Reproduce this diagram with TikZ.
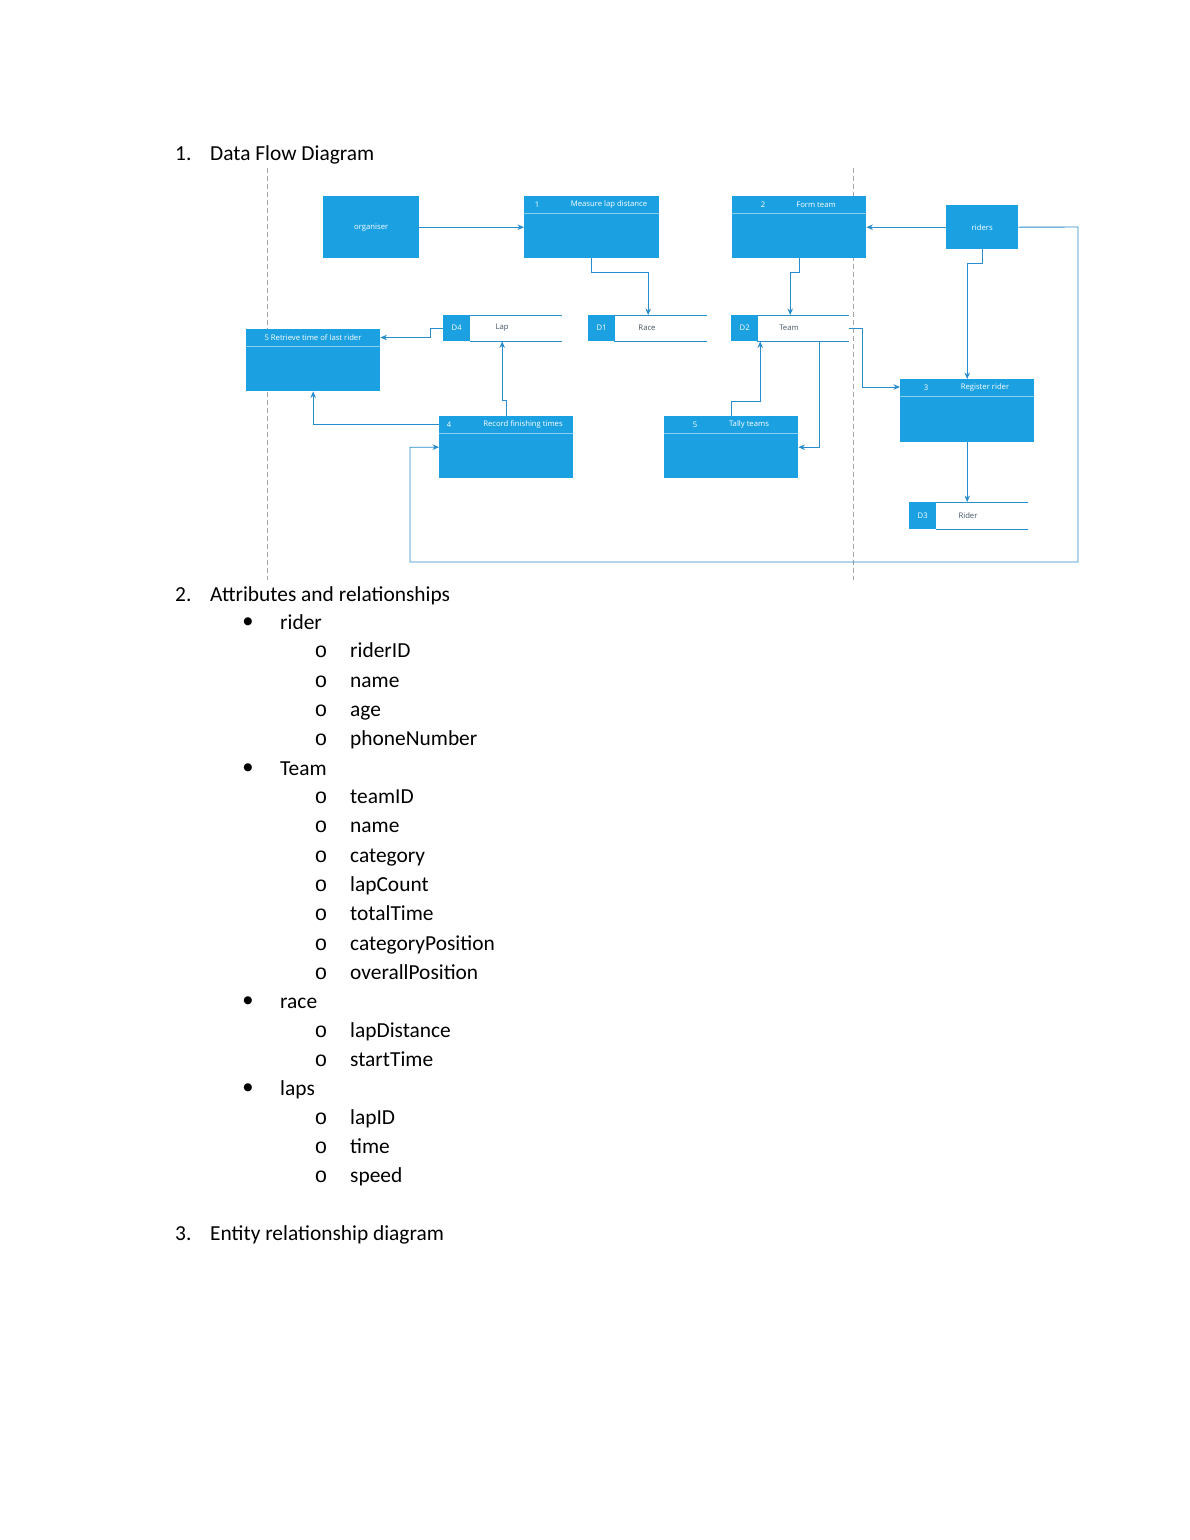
\documentclass[tikz,border=0pt]{standalone}
\usepackage{fontspec}
\setmainfont{Carlito}
\newfontfamily\dfd{Open Sans}
\newfontfamily\monofnt{Liberation Mono}
\newfontfamily\bulfont{DejaVu Sans}
\usetikzlibrary{arrows.meta}
\definecolor{boxblue}{RGB}{27,161,226}
\definecolor{flowblue}{RGB}{40,140,205}
\definecolor{sepblue}{RGB}{140,205,240}
\definecolor{dashgrey}{RGB}{165,165,165}
\definecolor{labgrey}{RGB}{70,85,100}
\begin{document}
\begin{tikzpicture}[x=1pt,y=-1pt,
  proc/.style={fill=boxblue, inner sep=0, anchor=north west, text=white, font=\dfd\fontsize{7.7}{9}\selectfont},
  hdr/.style={font=\dfd\fontsize{7.7}{9}\selectfont, text=white, inner sep=0},
  sepline/.style={draw=sepblue, line width=0.8},
  flow/.style={draw=flowblue, line width=0.9, -{Stealth[length=6.5pt,width=5.5pt]}},
  storeid/.style={fill=boxblue, inner sep=0, minimum width=27, minimum height=26, anchor=north west, text=white, font=\dfd\fontsize{7.7}{9}\selectfont},
  storelab/.style={inner sep=0, minimum height=26, anchor=north west},
  storetext/.style={inner sep=0, text=labgrey, font=\dfd\fontsize{7.7}{9}\selectfont},
  storeline/.style={draw=flowblue, line width=0.7},
  dashline/.style={draw=dashgrey, line width=0.7, dash pattern=on 5pt off 3pt},
  body/.style={font=\fontsize{21.4}{26}\selectfont, anchor=base west, inner sep=0},
  bul/.style={font=\bulfont\fontsize{10.5}{12}\selectfont, anchor=center, inner sep=0},
  obul/.style={font=\monofnt\fontsize{21.4}{26}\selectfont, anchor=base, inner sep=0}
]
\fill[white] (0,0) rectangle (1190,1540);
\useasboundingbox (0,0) rectangle (1190,1540);

% swimlane separators
\draw[dashline] (267,168) -- (267,580);
\draw[dashline] (853,168) -- (853,580);

% external entities
\node[proc, minimum width=96, minimum height=62] (org) at (323,196) {organiser};
\node[proc, minimum width=72, minimum height=44] (riders) at (946,205) {riders};

% processes
\node[proc, minimum width=135, minimum height=62] (p1) at (524,196) {};
\node[hdr] (p1n) at (537,204.5) {1};
\node[hdr] (p1t) at (609,204.5) {Measure lap distance};
\draw[sepline] ([yshift=-17.5]p1.north west) -- ([yshift=-17.5]p1.north east);

\node[proc, minimum width=134, minimum height=62] (p2) at (732,196) {};
\node[hdr] (p2n) at (763,204.5) {2};
\node[hdr] (p2t) at (816,204.5) {Form team};
\draw[sepline] ([yshift=-17.5]p2.north west) -- ([yshift=-17.5]p2.north east);

\node[proc, minimum width=134, minimum height=63] (p3) at (900,379) {};
\node[hdr] (p3n) at (926,387.5) {3};
\node[hdr] (p3t) at (985,387.5) {Register rider};
\draw[sepline] ([yshift=-17.5]p3.north west) -- ([yshift=-17.5]p3.north east);

\node[proc, minimum width=134, minimum height=62] (p4) at (439,416) {};
\node[hdr] (p4n) at (449,424.5) {4};
\node[hdr] (p4t) at (523,424.5) {Record finishing times};
\draw[sepline] ([yshift=-17.5]p4.north west) -- ([yshift=-17.5]p4.north east);

\node[proc, minimum width=134, minimum height=62] (p5) at (664,416) {};
\node[hdr] (p5n) at (695,424.5) {5};
\node[hdr] (p5t) at (749,424.5) {Tally teams};
\draw[sepline] ([yshift=-17.5]p5.north west) -- ([yshift=-17.5]p5.north east);

\node[proc, minimum width=134, minimum height=62] (rt) at (246,329) {};
\node[hdr] (rtt) at (313,337.5) {5 Retrieve time of last rider};
\draw[sepline] ([yshift=-17.5]rt.north west) -- ([yshift=-17.5]rt.north east);

% data stores
\node[storeid] (d4id) at (443,315) {D4};
\node[storelab, minimum width=92] (d4) at (470,315) {};
\node[storetext] (d4t) at (502,328) {Lap};
\draw[storeline] (d4.north west) -- (d4.north east) (d4.south west) -- (d4.south east);

\node[storeid] (d1id) at (588,315) {D1};
\node[storelab, minimum width=93] (d1) at (614,315) {};
\node[storetext] (d1t) at (647,328) {Race};
\draw[storeline] (d1.north west) -- (d1.north east) (d1.south west) -- (d1.south east);

\node[storeid] (d2id) at (731,315) {D2};
\node[storelab, minimum width=92] (d2) at (757,315) {};
\node[storetext] (d2t) at (789,328) {Team};
\draw[storeline] (d2.north west) -- (d2.north east) (d2.south west) -- (d2.south east);

\node[storeid, minimum height=27] (d3id) at (909,502) {D3};
\node[storelab, minimum width=92, minimum height=27] (d3) at (936,502) {};
\node[storetext] (d3t) at (968,515.5) {Rider};
\draw[storeline] (d3.north west) -- (d3.north east) (d3.south west) -- (d3.south east);

% flows
\draw[flow] (org.east) -- (org.east -| p1.west);
\draw[flow] (riders.west) -- (riders.west -| p2.east);
\coordinate (rA) at (1078,227);
\coordinate (rB) at (1078,562);
\coordinate (rC) at (410,562);
\draw[flow] (riders.east) -- (rA) -- (rB) -- (rC) |- (p4.west);
\draw[flow] (riders.south) -- ++(0,14) -| (p3.north);
\draw[flow] (p1.south) -- ++(0,14) -| ([xshift=-12.5]d1.north);
\draw[flow] (p2.south) -- ++(0,14) -| ([xshift=-13]d2.north);
\draw[flow] (d4id.west) -- ++(-13,0) |- ([yshift=-8.5]rt.north east);
\draw[flow] (p4.north) -- ++(0,-16) -| ([xshift=-14]d4.south);
\draw[flow] ([yshift=-8]p4.north west) -| (rt.south);
\draw[flow] (p5.north) -- ++(0,-15) -| ([xshift=-43]d2.south);
\draw[flow] ([xshift=16]d2.south) |- (p5.east);
\draw[flow] (d2.east) -- ++(13,0) |- ([yshift=-8]p3.north west);
\draw[flow] (p3.south) -- (p3.south |- d3.north);

% text body
\node[body] (n1) at (175,160) {1.};
\node[body] (h1) at (210,160) {Data Flow Diagram};
\node[body] (n2) at (175,601) {2.};
\node[body] (h2) at (210,601) {Attributes and relationships};

\node[bul] (b1) at (248,622) {●};
\node[body] (t1) at (280,629) {rider};
\node[obul] (o11) at (321,657) {o}; \node[body] (t11) at (350,657) {riderID};
\node[obul] (o12) at (321,687) {o}; \node[body] (t12) at (350,687) {name};
\node[obul] (o13) at (321,716) {o}; \node[body] (t13) at (350,716) {age};
\node[obul] (o14) at (321,745) {o}; \node[body] (t14) at (350,745) {phoneNumber};

\node[bul] (b2) at (248,768) {●};
\node[body] (t2) at (280,775) {Team};
\node[obul] (o21) at (321,803) {o}; \node[body] (t21) at (350,803) {teamID};
\node[obul] (o22) at (321,832) {o}; \node[body] (t22) at (350,832) {name};
\node[obul] (o23) at (321,862) {o}; \node[body] (t23) at (350,862) {category};
\node[obul] (o24) at (321,891) {o}; \node[body] (t24) at (350,891) {lapCount};
\node[obul] (o25) at (321,920) {o}; \node[body] (t25) at (350,920) {totalTime};
\node[obul] (o26) at (321,950) {o}; \node[body] (t26) at (350,950) {categoryPosition};
\node[obul] (o27) at (321,979) {o}; \node[body] (t27) at (350,979) {overallPosition};

\node[bul] (b3) at (248,1001) {●};
\node[body] (t3) at (280,1008) {race};
\node[obul] (o31) at (321,1037) {o}; \node[body] (t31) at (350,1037) {lapDistance};
\node[obul] (o32) at (321,1066) {o}; \node[body] (t32) at (350,1066) {startTime};

\node[bul] (b4) at (248,1088) {●};
\node[body] (t4) at (280,1095) {laps};
\node[obul] (o41) at (321,1124) {o}; \node[body] (t41) at (350,1124) {lapID};
\node[obul] (o42) at (321,1153) {o}; \node[body] (t42) at (350,1153) {time};
\node[obul] (o43) at (321,1182) {o}; \node[body] (t43) at (350,1182) {speed};

\node[body] (n3) at (175,1240) {3.};
\node[body] (h3) at (210,1240) {Entity relationship diagram};
\end{tikzpicture}
\end{document}
